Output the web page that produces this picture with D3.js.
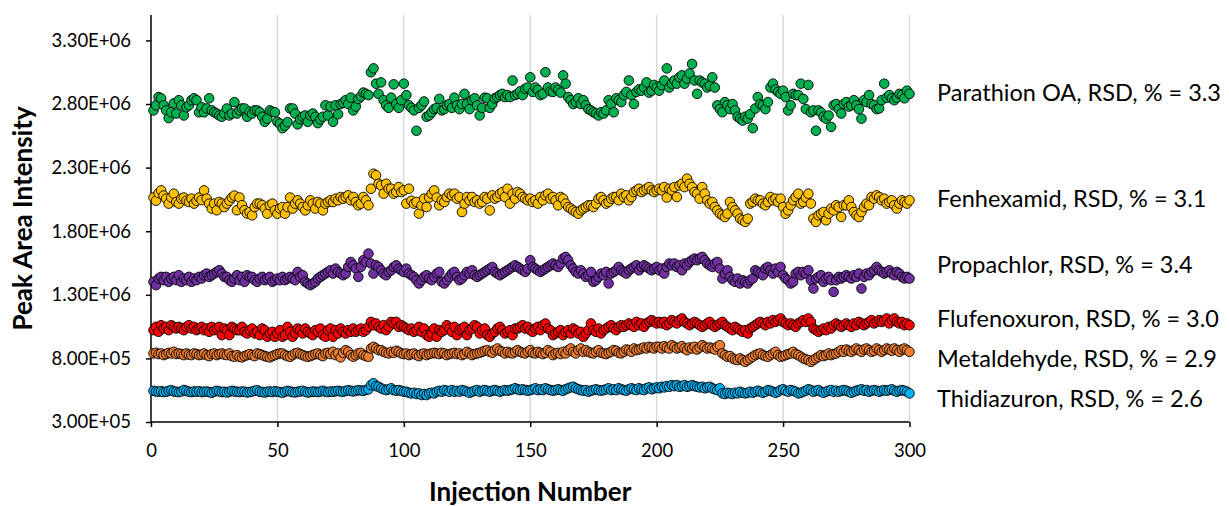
<!DOCTYPE html>
<html>
<head>
<meta charset="utf-8">
<script src="https://cdn.jsdelivr.net/npm/d3@7"></script>
<style>
  body { margin: 0; background: #fff; }
  svg text { font-family: Lato, "Open Sans", sans-serif; fill: #000; }
</style>
</head>
<body>
<svg id="chart" width="1229" height="506"></svg>
<script>
// peak areas, in thousands (x1000), injections 1..300
let unit = 1000

let parathion = [
  2750, 2790, 2855, 2845, 2790, 2750, 2690, 2735, 2805, 2725,
  2830, 2790, 2710, 2775, 2790, 2830, 2845, 2830, 2735, 2775,
  2735, 2765, 2845, 2750, 2735, 2725, 2710, 2700, 2725, 2765,
  2710, 2725, 2815, 2725, 2750, 2765, 2765, 2700, 2740, 2725,
  2750, 2750, 2735, 2700, 2660, 2685, 2750, 2740, 2735, 2660,
  2645, 2610, 2630, 2657, 2765, 2765, 2725, 2640, 2680, 2700,
  2710, 2660, 2710, 2725, 2700, 2650, 2680, 2700, 2790, 2710,
  2780, 2660, 2790, 2720, 2800, 2810, 2830, 2800, 2850, 2750,
  2780, 2840, 2860, 2890, 2880, 2870, 3050, 3080, 2960, 2880,
  2970, 2830, 2790, 2770, 2850, 2955, 2800, 2770, 2830, 2960,
  2870, 2790, 2770, 2750, 2590, 2770, 2790, 2820, 2700, 2710,
  2735, 2760, 2770, 2840, 2750, 2760, 2790, 2800, 2770, 2850,
  2790, 2760, 2800, 2880, 2800, 2760, 2830, 2845, 2790, 2710,
  2770, 2850, 2845, 2770, 2800, 2845, 2855, 2870, 2880, 2855,
  2870, 2855, 2985, 2870, 2880, 2900, 2870, 2920, 2930, 3010,
  2895, 2930, 2910, 2870, 2880, 3050, 2930, 2900, 2895, 2930,
  2910, 2890, 3025, 2960, 2855, 2830, 2800, 2815, 2845, 2800,
  2830, 2790, 2760, 2750, 2735, 2725, 2710, 2735, 2725, 2750,
  2830, 2800, 2735, 2845, 2830, 2815, 2870, 2895, 2985, 2870,
  2800, 2895, 2915, 2905, 2930, 2970, 2890, 2905, 2950, 2930,
  2905, 2950, 2985, 3080, 2930, 2960, 2985, 2960, 3010, 3025,
  2960, 3000, 3040, 3115, 2985, 2880, 2985, 2970, 2960, 2930,
  2945, 3010, 2930, 2790, 2760, 2735, 2815, 2790, 2760, 2800,
  2750, 2700, 2685, 2670, 2700, 2685, 2720, 2610, 2765, 2855,
  2800, 2790, 2760, 2815, 2930, 2960, 2915, 2895, 2880, 2905,
  2855, 2750, 2790, 2880, 2870, 2870, 2960, 2840, 2760, 2950,
  2735, 2750, 2590, 2750, 2735, 2700, 2685, 2710, 2620, 2790,
  2800, 2760, 2725, 2800, 2815, 2780, 2790, 2830, 2790, 2760,
  2685, 2830, 2815, 2870, 2800, 2790, 2760, 2765, 2830, 2960,
  2850, 2870, 2845, 2830, 2850, 2880, 2870, 2845, 2905, 2880
]

let fenhexamid = [
  2065, 2040, 2100, 2121, 2080, 2056, 2017, 2065, 2095, 2030,
  2017, 2056, 2065, 2040, 2030, 2056, 2017, 2040, 2065, 2045,
  2121, 2056, 2017, 1978, 2017, 1965, 2030, 2017, 1990, 2017,
  2040, 2065, 2080, 1965, 2065, 2005, 1965, 1939, 1950, 1925,
  1990, 2017, 2017, 2005, 1978, 1938, 2004, 2017, 1964, 1938,
  1978, 1990, 1938, 1990, 2065, 1978, 2017, 2043, 2017, 1990,
  1964, 2004, 2043, 2017, 1978, 2030, 2017, 1964, 2017, 2030,
  2043, 2030, 2056, 2043, 2069, 2056, 2069, 2082, 2043, 2069,
  2030, 2004, 2017, 2069, 2043, 2004, 2134, 2252, 2240, 2173,
  2160, 2095, 2173, 2134, 2134, 2095, 2108, 2147, 2108, 2121,
  2017, 2134, 2040, 2017, 2030, 1939, 2004, 2056, 1990, 2065,
  2095, 2121, 2065, 2004, 2043, 2030, 2069, 2095, 2082, 2095,
  2056, 2069, 1951, 2017, 2069, 2043, 2069, 2030, 2043, 2017,
  2030, 2069, 2056, 1964, 2082, 2056, 2069, 2095, 2108, 2069,
  2134, 2017, 2095, 2056, 2108, 2095, 2069, 2056, 2043, 2056,
  2030, 2043, 2017, 2069, 2043, 2082, 2095, 2056, 2069, 2043,
  2004, 2069, 2056, 2017, 1990, 1978, 1964, 1951, 1938, 1964,
  1978, 1990, 2004, 2004, 1990, 2017, 2056, 2069, 2043, 2017,
  2030, 2056, 2069, 2069, 2043, 2095, 2069, 2082, 2043, 2069,
  2108, 2121, 2134, 2108, 2121, 2134, 2147, 2121, 2108, 2121,
  2134, 2121, 2147, 2065, 2134, 2121, 2147, 2069, 2160, 2173,
  2147, 2213, 2173, 2147, 2108, 2095, 2056, 2147, 2095, 2043,
  2017, 2030, 1990, 1964, 1938, 1925, 1912, 1938, 2030, 1990,
  1964, 1938, 1899, 1886, 1873, 1899, 2017, 2030, 2056, 2043,
  2043, 2017, 2004, 2030, 2069, 2043, 2056, 2030, 2056, 1990,
  1938, 1964, 2004, 2043, 2069, 2095, 2017, 2030, 2065, 2095,
  2017, 1899, 1873, 1925, 1938, 1951, 1886, 1938, 1978, 1964,
  2004, 1990, 1912, 2004, 2004, 2043, 1990, 1951, 1925, 1912,
  1951, 1990, 2017, 2004, 2069, 2056, 2082, 2069, 2043, 2056,
  2017, 2030, 2043, 2004, 1978, 2017, 2043, 2030, 2017, 2043
]

let propachlor = [
  1402, 1376, 1428, 1441, 1415, 1441, 1402, 1428, 1441, 1415,
  1454, 1402, 1428, 1415, 1441, 1402, 1428, 1415, 1441, 1428,
  1454, 1467, 1441, 1454, 1467, 1480, 1493, 1467, 1441, 1441,
  1415, 1402, 1428, 1454, 1415, 1441, 1402, 1454, 1441, 1441,
  1415, 1402, 1428, 1441, 1415, 1428, 1441, 1402, 1415, 1428,
  1415, 1441, 1415, 1428, 1441, 1428, 1415, 1480, 1441, 1454,
  1402, 1389, 1376, 1389, 1402, 1428, 1441, 1454, 1467, 1480,
  1493, 1467, 1506, 1480, 1467, 1454, 1467, 1519, 1558, 1532,
  1506, 1441, 1519, 1572, 1558, 1624, 1546, 1467, 1532, 1519,
  1493, 1467, 1454, 1480, 1493, 1519, 1532, 1506, 1493, 1480,
  1506, 1467, 1454, 1441, 1415, 1389, 1415, 1441, 1454, 1428,
  1415, 1441, 1467, 1480, 1402, 1389, 1415, 1441, 1467, 1480,
  1441, 1415, 1428, 1454, 1480, 1467, 1493, 1454, 1441, 1454,
  1467, 1480, 1493, 1506, 1519, 1480, 1467, 1454, 1467, 1480,
  1493, 1506, 1519, 1532, 1519, 1506, 1493, 1480, 1506, 1572,
  1519, 1506, 1493, 1480, 1493, 1506, 1519, 1532, 1546, 1532,
  1519, 1546, 1585, 1598, 1572, 1532, 1506, 1480, 1467, 1493,
  1467, 1441, 1454, 1480, 1402, 1415, 1441, 1467, 1454, 1480,
  1389, 1467, 1480, 1493, 1519, 1493, 1480, 1467, 1493, 1506,
  1519, 1532, 1493, 1519, 1532, 1519, 1506, 1493, 1506, 1519,
  1493, 1506, 1467, 1519, 1546, 1532, 1546, 1519, 1532, 1493,
  1546, 1532, 1558, 1572, 1585, 1572, 1585, 1598, 1572, 1546,
  1532, 1519, 1546, 1558, 1506, 1428, 1467, 1493, 1441, 1415,
  1402, 1428, 1389, 1415, 1402, 1389, 1415, 1428, 1493, 1480,
  1467, 1454, 1506, 1519, 1493, 1467, 1506, 1480, 1519, 1454,
  1428, 1415, 1389, 1402, 1467, 1480, 1454, 1480, 1467, 1493,
  1415, 1349, 1428, 1441, 1454, 1402, 1428, 1441, 1415, 1323,
  1415, 1441, 1428, 1441, 1454, 1441, 1428, 1454, 1441, 1467,
  1349, 1441, 1467, 1454, 1480, 1493, 1519, 1493, 1480, 1467,
  1480, 1493, 1467, 1454, 1480, 1467, 1441, 1428, 1441, 1428
]

let flufenoxuron = [
  1022, 1048, 1009, 1061, 1035, 1048, 1022, 1061, 1048, 1035,
  1048, 1035, 1022, 1048, 1061, 1035, 1048, 1022, 1035, 1048,
  1022, 1035, 1009, 1048, 1022, 1035, 1048, 983, 1035, 1022,
  983, 1048, 1035, 1022, 1022, 1048, 1009, 996, 1022, 1035,
  996, 1009, 983, 1035, 1022, 970, 996, 1009, 970, 996,
  1022, 970, 983, 1048, 1009, 970, 996, 1035, 1022, 996,
  1035, 1009, 996, 983, 1022, 1009, 1035, 983, 970, 1022,
  1035, 970, 1022, 996, 1035, 1009, 996, 1022, 1009, 1035,
  1009, 1022, 1035, 1009, 1022, 1048, 1087, 1061, 1075, 1048,
  1035, 1061, 1022, 1048, 1087, 1075, 1087, 1048, 1061, 1048,
  1035, 1022, 1035, 1009, 1022, 1048, 1009, 1035, 983, 970,
  996, 1035, 970, 1022, 1009, 1022, 1061, 1035, 1009, 1048,
  983, 1022, 1035, 1048, 983, 1022, 1035, 1061, 1048, 996,
  1022, 1035, 983, 970, 996, 1009, 1035, 1048, 1022, 996,
  1009, 1022, 983, 1035, 1035, 1048, 1061, 1035, 1048, 1022,
  1009, 1035, 1048, 1022, 1061, 1074, 1035, 1022, 983, 996,
  1009, 1022, 983, 1009, 1022, 996, 1035, 1022, 996, 1009,
  970, 996, 1022, 1075, 1022, 1009, 1035, 996, 1022, 1035,
  1048, 1061, 1035, 1022, 1048, 1061, 1048, 1061, 1075, 1061,
  1048, 1087, 1061, 1075, 1048, 1075, 1087, 1101, 1087, 1075,
  1087, 1075, 1087, 1061, 1075, 1101, 1087, 1075, 1101, 1114,
  1087, 1075, 1061, 1075, 1087, 1075, 1061, 1048, 1061, 1075,
  1087, 1061, 1048, 1061, 1075, 1087, 1061, 1048, 1035, 1022,
  1048, 1035, 1022, 1009, 1022, 996, 1035, 1048, 1061, 1075,
  1087, 1075, 1061, 1087, 1075, 1101, 1087, 1101, 1114, 1087,
  1075, 1061, 1075, 1061, 1048, 1075, 1087, 1101, 1087, 1114,
  1087, 1035, 1022, 1009, 1022, 1035, 1022, 1048, 1035, 1061,
  1075, 1061, 1048, 1061, 1075, 1061, 1048, 1075, 1061, 1087,
  1075, 1061, 1075, 1087, 1101, 1075, 1087, 1101, 1087, 1101,
  1114, 1075, 1101, 1114, 1087, 1075, 1087, 1061, 1075, 1061
]

let metaldehyde = [
  839, 844, 834, 839, 826, 834, 844, 839, 852, 834,
  839, 834, 826, 839, 830, 826, 839, 834, 826, 830,
  839, 826, 818, 834, 839, 826, 834, 839, 830, 826,
  839, 818, 813, 826, 813, 808, 818, 826, 834, 826,
  818, 839, 834, 826, 818, 813, 808, 818, 826, 834,
  839, 839, 826, 818, 813, 826, 839, 844, 834, 826,
  818, 813, 818, 826, 834, 839, 826, 818, 839, 844,
  834, 852, 826, 839, 808, 844, 865, 852, 826, 813,
  826, 839, 844, 826, 818, 813, 878, 891, 878, 865,
  865, 852, 844, 839, 852, 844, 860, 852, 839, 834,
  839, 826, 834, 839, 826, 818, 834, 839, 826, 834,
  839, 844, 839, 834, 844, 839, 826, 834, 839, 844,
  834, 839, 826, 834, 852, 839, 826, 834, 839, 844,
  852, 860, 865, 852, 844, 865, 878, 860, 852, 839,
  852, 844, 839, 852, 865, 852, 844, 839, 852, 865,
  844, 839, 852, 844, 834, 844, 865, 852, 826, 839,
  844, 834, 852, 839, 865, 878, 852, 839, 865, 878,
  852, 865, 852, 844, 839, 852, 865, 844, 839, 834,
  844, 852, 865, 860, 844, 839, 852, 870, 865, 852,
  878, 865, 870, 878, 886, 878, 891, 886, 878, 891,
  891, 878, 896, 886, 878, 904, 891, 878, 886, 896,
  878, 865, 886, 878, 891, 870, 886, 904, 891, 878,
  886, 878, 870, 891, 904, 839, 826, 813, 818, 800,
  792, 787, 800, 787, 773, 787, 800, 813, 826, 834,
  839, 826, 818, 813, 826, 839, 852, 826, 813, 818,
  826, 834, 839, 852, 834, 826, 813, 800, 792, 787,
  773, 787, 800, 813, 826, 818, 826, 839, 826, 834,
  839, 852, 865, 852, 870, 860, 852, 865, 878, 865,
  852, 870, 878, 865, 852, 860, 878, 865, 852, 865,
  878, 870, 860, 878, 865, 852, 870, 878, 865, 852
]

let thidiazuron = [
  545, 540, 538, 542, 535, 538, 545, 550, 540, 538,
  535, 540, 552, 545, 538, 535, 540, 538, 542, 535,
  538, 540, 535, 530, 538, 545, 540, 535, 538, 532,
  538, 545, 540, 538, 535, 540, 538, 532, 535, 540,
  545, 550, 538, 535, 532, 538, 540, 535, 542, 538,
  535, 530, 538, 545, 540, 535, 532, 538, 540, 545,
  538, 532, 535, 540, 538, 535, 540, 545, 538, 535,
  540, 538, 542, 545, 540, 538, 545, 550, 545, 540,
  545, 550, 548, 545, 552, 557, 590, 604, 582, 577,
  565, 557, 551, 557, 565, 551, 546, 551, 545, 538,
  538, 530, 525, 530, 520, 525, 512, 520, 512, 525,
  530, 525, 538, 545, 538, 551, 546, 538, 551, 538,
  545, 538, 551, 546, 538, 530, 538, 545, 551, 538,
  546, 551, 545, 538, 546, 551, 545, 538, 545, 551,
  546, 551, 557, 565, 557, 551, 557, 551, 546, 551,
  557, 565, 551, 557, 551, 565, 557, 551, 546, 551,
  557, 551, 546, 557, 565, 572, 577, 565, 557, 551,
  546, 551, 538, 546, 551, 557, 551, 546, 551, 557,
  565, 551, 557, 551, 565, 557, 551, 546, 557, 565,
  557, 551, 565, 557, 551, 565, 572, 557, 565, 572,
  565, 577, 572, 582, 577, 590, 582, 590, 577, 582,
  590, 577, 582, 590, 582, 577, 572, 577, 565, 572,
  577, 565, 557, 551, 565, 525, 520, 530, 525, 520,
  530, 525, 538, 530, 525, 530, 538, 530, 538, 546,
  538, 530, 538, 551, 546, 538, 530, 538, 551, 557,
  546, 538, 551, 546, 538, 525, 530, 538, 546, 557,
  551, 538, 546, 551, 538, 530, 538, 546, 551, 538,
  546, 538, 546, 551, 546, 538, 530, 538, 546, 551,
  557, 546, 551, 538, 546, 551, 546, 538, 546, 551,
  546, 551, 557, 546, 538, 546, 551, 546, 538, 525
]

let seriesNames = ['Thidiazuron', 'Metaldehyde', 'Flufenoxuron', 'Propachlor', 'Fenhexamid', 'Parathion OA']
let seriesValues = [thidiazuron, metaldehyde, flufenoxuron, propachlor, fenhexamid, parathion]
let seriesRSD = ['2.6', '2.9', '3.0', '3.4', '3.1', '3.3']

// layout / style
let seriesColors = ['#00B0F0', '#ED7D31', '#FF0000', '#7030A0', '#FFC000', '#00B050']
let labelY = [406.7, 366.7, 326.7, 273.3, 206.7, 100.7]

let xTicks = [0, 50, 100, 150, 200, 250, 300]
let yTicks = [300000, 800000, 1300000, 1800000, 2300000, 2800000, 3300000]

let svg = d3.select('#chart')
let pLeft = 151
let pRight = 909.5
let pTop = 15
let pBottom = 422

let xScale = d3.scaleLinear().domain([0, 300]).range([pLeft, pRight])
let yScale = d3.scaleLinear().domain([300000, 3500000]).range([pBottom, pTop])

let expFormat = (v) => {
    let s = v.toExponential(2).toUpperCase()
    return s.replace(/E([+-])(\d)$/, 'E$10$2')
}

// vertical gridlines
svg.append('g')
    .selectAll('line')
    .data(xTicks.filter(d => d > 0))
    .enter()
    .append('line')
    .attr('x1', d => xScale(d))
    .attr('x2', d => xScale(d))
    .attr('y1', pTop)
    .attr('y2', pBottom)
    .attr('stroke', '#d9d9d9')
    .attr('stroke-width', 1.5)

let xAxis = d3.axisBottom(xScale).tickValues(xTicks).tickSize(5).tickPadding(17)
let yAxis = d3.axisLeft(yScale).tickValues(yTicks).tickSize(5).tickPadding(15).tickFormat(expFormat)

let gx = svg.append('g')
    .attr('transform', 'translate(0,' + pBottom + ')')
    .call(xAxis)
let gy = svg.append('g')
    .attr('transform', 'translate(' + pLeft + ',0)')
    .call(yAxis)

gx.select('.domain').attr('d', 'M' + pLeft + ',0H' + pRight).attr('stroke', '#000').attr('stroke-width', 1.5)
gy.select('.domain').attr('d', 'M0,' + pTop + 'V' + pBottom).attr('stroke', '#000').attr('stroke-width', 1.5)
gx.selectAll('.tick line').attr('stroke', '#000').attr('stroke-width', 1.5)
gy.selectAll('.tick line').attr('stroke', '#000').attr('stroke-width', 1.5)
gx.selectAll('.tick text').style('font-size', '18.5px').style('font-family', 'Lato')
gy.selectAll('.tick text').style('font-size', '18.5px').style('font-family', 'Lato')

// points
seriesValues.forEach((vals, i) => {
    svg.append('g')
        .selectAll('circle')
        .data(vals)
        .enter()
        .append('circle')
        .attr('cx', (d, j) => xScale(j + 1))
        .attr('cy', d => yScale(d * unit))
        .attr('r', 4.8)
        .attr('fill', seriesColors[i])
        .attr('stroke', '#000')
        .attr('stroke-width', 0.9)
})

// series labels
svg.append('g')
    .selectAll('text')
    .data(seriesNames)
    .enter()
    .append('text')
    .attr('x', 937)
    .attr('y', (d, i) => labelY[i])
    .style('font-size', '23.5px')
    .text((d, i) => d + ', RSD, % = ' + seriesRSD[i])

// axis titles
svg.append('text')
    .attr('transform', 'translate(32,' + ((pTop + pBottom) / 2) + ') rotate(-90)')
    .attr('text-anchor', 'middle')
    .style('font-size', '26px')
    .style('font-weight', 'bold')
    .text('Peak Area Intensity')

svg.append('text')
    .attr('x', (pLeft + pRight) / 2)
    .attr('y', 501)
    .attr('text-anchor', 'middle')
    .style('font-size', '26px')
    .style('font-weight', 'bold')
    .text('Injection Number')
</script>
</body>
</html>
